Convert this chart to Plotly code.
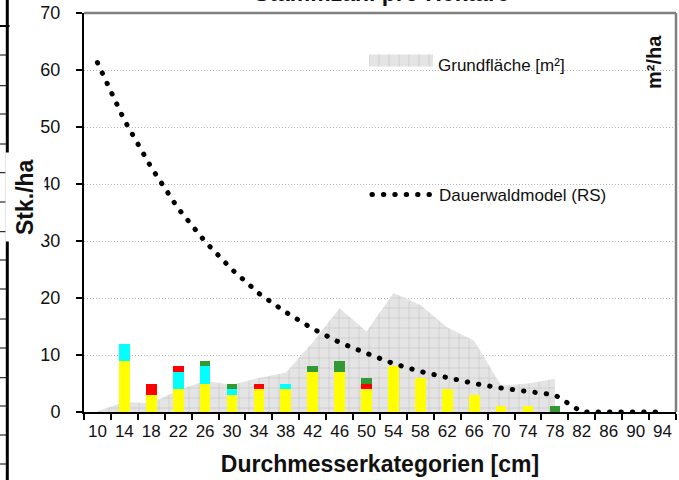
import plotly.graph_objects as go

# ---------------- data ----------------
dbh_classes = [10, 14, 18, 22, 26, 30, 34, 38, 42, 46, 50, 54, 58, 62, 66, 70, 74, 78, 82, 86, 90, 94]
categories = [str(d) for d in dbh_classes]

# stem numbers per ha (stacked bars, bottom -> top)
n_yellow = [0, 9, 3, 4, 5, 3, 4, 4, 7, 7, 4, 8, 6, 4, 3, 1, 1, 0, 0, 0, 0, 0]
n_cyan   = [0, 3, 0, 3, 3, 1, 0, 1, 0, 0, 0, 0, 0, 0, 0, 0, 0, 0, 0, 0, 0, 0]
n_red    = [0, 0, 2, 1, 0, 0, 1, 0, 0, 0, 1, 0, 0, 0, 0, 0, 0, 0, 0, 0, 0, 0]
n_green  = [0, 0, 0, 0, 1, 1, 0, 0, 1, 2, 1, 0, 0, 0, 0, 0, 0, 1, 0, 0, 0, 0]

# Dauerwald model (RS), stems per ha
model_rs = [61.3, 51.2, 42.9, 35.7, 29.9, 25.0, 20.8, 17.5, 14.6, 12.2, 10.3,
            8.5, 7.1, 6.0, 5.0, 4.2, 3.5, 3.0, 0, 0, 0, 0]

# basal area (m²/ha), classes 10..78
ba_categories = categories[:18]
basal_area = [0.01, 0.15, 0.13, 0.33, 0.47, 0.41, 0.51, 0.59, 1.05, 1.56, 1.21,
              1.79, 1.61, 1.27, 1.07, 0.40, 0.43, 0.50]

# ---------------- style ----------------
FONT = "Liberation Sans, Arial, sans-serif"
W, H = 679, 480
ML, MR, MT, MB = 84, 3, 13, 68
PW, PH = W - ML - MR, H - MT - MB


def px(xp):
    return (xp - ML) / PW


def py(yp):
    return (H - MB - yp) / PH


fig = go.Figure()

# basal area (drawn on primary axis so that it lies behind the bars)
fig.add_trace(go.Scatter(
    x=ba_categories, y=basal_area, yaxis="y", mode="lines",
    line=dict(width=0, color="#e4e4e4"), fill="tozeroy", fillcolor="#e4e4e4",
    fillpattern=dict(shape="+", size=10, solidity=0.12, fgcolor="#c6c6c6",
                     bgcolor="#e4e4e4", fillmode="replace"),
    name="Grundfläche [m²]", legend="legend", showlegend=True, hoverinfo="skip"))

for vals, col in [(n_yellow, "#FFFF00"), (n_cyan, "#00FFFF"),
                  (n_red, "#FF0000"), (n_green, "#339933")]:
    fig.add_trace(go.Bar(x=categories, y=vals, yaxis="y2", width=0.4,
                         marker=dict(color=col, line=dict(width=0)),
                         showlegend=False))

fig.add_trace(go.Scatter(
    x=categories, y=model_rs, yaxis="y2", mode="lines",
    line=dict(color="black", width=5, dash="0.4px,11px"),
    name="Dauerwaldmodel (RS)", legend="legend2", showlegend=True))

fig.update_layout(
    width=W, height=H,
    margin=dict(l=ML, r=MR, t=MT, b=MB, pad=0, autoexpand=False),
    paper_bgcolor="white", plot_bgcolor="white",
    barmode="stack",
    font=dict(family=FONT, size=17, color="#111111"),
    xaxis=dict(type="category", range=[-0.5, 21.5], showline=True,
               automargin=False, tickangle=0,
               linecolor="black", linewidth=2, ticks="outside",
               tickson="boundaries", ticklen=6, tickwidth=1.5,
               tickcolor="black", showgrid=False, zeroline=False,
               ticklabelstandoff=3,
               tickfont=dict(size=17, family=FONT, color="#111111"),
               title=dict(text="Durchmesserkategorien [cm]",
                          font=dict(size=23, family=FONT, weight="bold",
                                    color="#111111"),
                          standoff=15)),
    yaxis=dict(range=[0, 6], showgrid=False, showticklabels=False,
               automargin=False,
               showline=False, zeroline=False, ticks="", side="right"),
    yaxis2=dict(overlaying="y", side="left", range=[0, 70], dtick=10,
                automargin=False,
                showline=True, linecolor="black", linewidth=2,
                ticks="outside", ticklen=6, tickwidth=1.5, tickcolor="black",
                showgrid=True, gridcolor="#b4b4b4", gridwidth=1,
                griddash="1px,2px", zeroline=False,
                tickfont=dict(size=18, family=FONT, color="#111111"),
                ticklabelstandoff=12),
    legend=dict(x=px(364), y=py(65), xanchor="left", yanchor="middle",
                bgcolor="rgba(0,0,0,0)", itemwidth=64,
                font=dict(size=17, family=FONT, color="#111111")),
    legend2=dict(x=px(367), y=py(195), xanchor="left", yanchor="middle",
                 bgcolor="rgba(0,0,0,0)", itemwidth=62,
                 font=dict(size=17, family=FONT, color="#111111")),
)

shapes = [
    dict(type="line", xref="paper", yref="paper", x0=0, x1=1, y0=1, y1=1,
         line=dict(color="#808080", width=2.5)),
    dict(type="line", xref="paper", yref="paper", x0=1, x1=1, y0=0, y1=1,
         line=dict(color="#808080", width=2.5)),
    # neighbouring table edge at the far left
    dict(type="line", xref="paper", yref="paper", x0=px(7.3), x1=px(7.3),
         y0=py(0), y1=py(H), line=dict(color="black", width=3)),
    dict(type="line", xref="paper", yref="paper", x0=px(0), x1=px(9.5),
         y0=py(26), y1=py(26), line=dict(color="black", width=2)),
]
table_rows = [55, 85.7, 114, 144, 172.7, 202, 231.7, 260, 289, 319, 348, 377.7, 406, 435, 464]
for r in table_rows:
    shapes.append(dict(type="line", xref="paper", yref="paper", x0=px(0),
                       x1=px(7), y0=py(r), y1=py(r),
                       line=dict(color="black", width=1)))
fig.update_layout(shapes=shapes)

annotations = [
    dict(text="<b>Stk./ha</b>", xref="paper", yref="paper", x=px(25),
         y=py(197), xanchor="center", yanchor="middle", textangle=-90,
         showarrow=False, bgcolor="white", borderpad=6,
         font=dict(size=23, family=FONT, color="#111111")),
    dict(text="<b>m²/ha</b>", xref="paper", yref="paper", x=px(654),
         y=py(62), xanchor="center", yanchor="middle", textangle=-90,
         showarrow=False,
         font=dict(size=20, family=FONT, color="#111111")),
    dict(text="<b>Stammzahl pro Hektare</b>", xref="paper", yref="paper",
         x=px(382), y=py(7.5), xanchor="center", yanchor="bottom",
         showarrow=False, font=dict(size=23, family=FONT, color="#111111")),
]
fig.update_layout(annotations=annotations)

post = ("var s=document.createElement('style');"
        "s.textContent='body{margin:0 !important;padding:0 !important;}"
        ".js-line{stroke-linecap:round !important;}"
        ".legendfill path{transform:translateY(-6px) scaleY(2);}';"
        "document.head.appendChild(s);")
fig.write_html("out.html", post_script=post,
               config={"displayModeBar": False})
